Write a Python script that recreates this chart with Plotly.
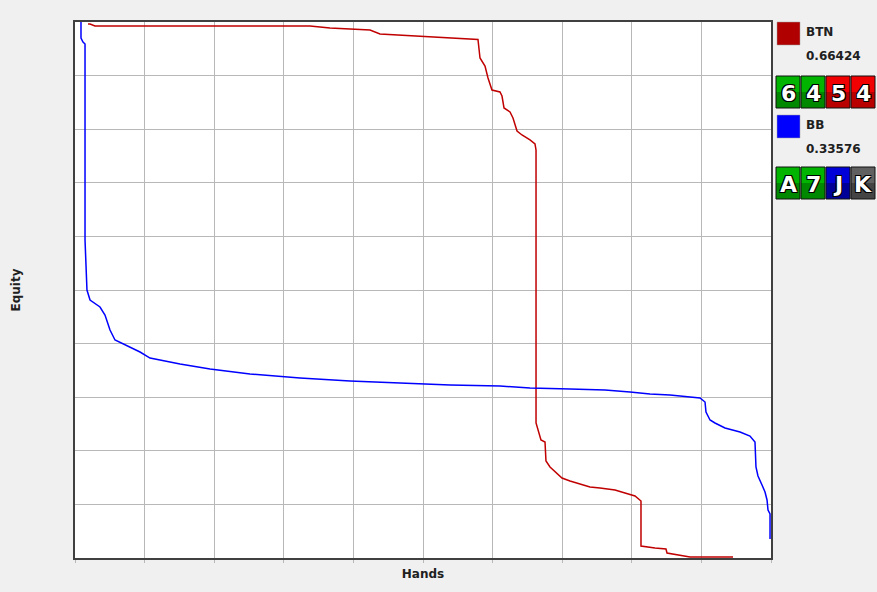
import plotly.graph_objects as go

# ---- data (fraction of hands, equity) ----
btn_x = [0.0187, 0.0216, 0.0287, 0.3376, 0.3664, 0.4239, 0.4382, 0.4957, 0.5144, 0.5603,
         0.5790, 0.5819, 0.5891, 0.5934, 0.5991, 0.6106, 0.6135, 0.6164, 0.6250, 0.6293,
         0.6336, 0.6351, 0.6422, 0.6537, 0.6609, 0.6624, 0.6624, 0.6652, 0.6695, 0.6753,
         0.6767, 0.6825, 0.6911, 0.6997, 0.7112, 0.7256, 0.7399, 0.7543, 0.7759, 0.7902,
         0.8046, 0.8132, 0.8132, 0.8333, 0.8491, 0.8506, 0.8693, 0.8836, 0.9454]
btn_y = [0.9963, 0.9963, 0.9925, 0.9925, 0.9888, 0.9851, 0.9776, 0.9739, 0.9720, 0.9692,
         0.9674, 0.9328, 0.9179, 0.8955, 0.8731, 0.8694, 0.8619, 0.8396, 0.8321, 0.8209,
         0.8022, 0.7966, 0.7892, 0.7799, 0.7724, 0.7612, 0.2519, 0.2388, 0.2201, 0.2164,
         0.1810, 0.1698, 0.1586, 0.1493, 0.1437, 0.1381, 0.1325, 0.1306, 0.1269, 0.1213,
         0.1157, 0.1063, 0.0224, 0.0187, 0.0168, 0.0093, 0.0056, 0.0019, 0.0019]

bb_x = [0.0086, 0.0086, 0.0115, 0.0144, 0.0144, 0.0158, 0.0172, 0.0216, 0.0359, 0.0431,
        0.0503, 0.0575, 0.0718, 0.0934, 0.1078, 0.1509, 0.1940, 0.2514, 0.3233, 0.3951,
        0.4670, 0.5388, 0.6106, 0.6537, 0.7112, 0.7615, 0.7974, 0.8261, 0.8549, 0.8836,
        0.8980, 0.9052, 0.9066, 0.9124, 0.9195, 0.9339, 0.9555, 0.9698, 0.9770, 0.9784,
        0.9813, 0.9871, 0.9914, 0.9943, 0.9957, 0.9986, 0.9986]
bb_y = [1.0, 0.9701, 0.9627, 0.9590, 0.5933, 0.5187, 0.5000, 0.4813, 0.4683, 0.4534,
        0.4254, 0.4067, 0.3974, 0.3843, 0.3731, 0.3619, 0.3526, 0.3433, 0.3358, 0.3302,
        0.3265, 0.3228, 0.3209, 0.3172, 0.3153, 0.3134, 0.3097, 0.3060, 0.3041, 0.3004,
        0.2985, 0.2910, 0.2724, 0.2575, 0.2519, 0.2425, 0.2351, 0.2276, 0.2164, 0.1698,
        0.1530, 0.1362, 0.1231, 0.1082, 0.0896, 0.0821, 0.0354]

players = ["BTN", "BB"]
equities = ["0.66424", "0.33576"]
player_colors = ["#b00000", "#0000ff"]
hands = [["6", "4", "5", "4"], ["A", "7", "J", "K"]]
suits = [["g", "g", "r", "r"], ["g", "g", "b", "k"]]

suit_colors = {"g": ("#00b400", "#008800"), "r": ("#f00000", "#b80000"),
               "b": ("#0000d8", "#000098"), "k": ("#606060", "#444444")}

W, H = 877, 592
L, R, T, B = 75, 771, 22, 558


def px(xp):
    return (xp - L) / (R - L)


def py(yp):
    return (B - yp) / (B - T)


fig = go.Figure()
fig.add_trace(go.Scatter(x=btn_x, y=btn_y, mode="lines", line=dict(color="#c00000", width=1.5),
                         showlegend=False, hoverinfo="skip"))
fig.add_trace(go.Scatter(x=bb_x, y=bb_y, mode="lines", line=dict(color="#0000ff", width=1.5),
                         showlegend=False, hoverinfo="skip"))

shapes = []
annotations = []
row_tops = [22, 115]
card_tops = [76, 167]
for i in range(2):
    t = row_tops[i]
    shapes.append(dict(type="rect", xref="paper", yref="paper",
                       x0=px(777), x1=px(800), y0=py(t), y1=py(t + 23),
                       fillcolor=player_colors[i], line=dict(color="#a0a0a0", width=0.5)))
    annotations.append(dict(xref="paper", yref="paper", x=px(804), y=py(t + 10), text="<b>%s</b>" % players[i],
                            showarrow=False, xanchor="left", yanchor="middle",
                            font=dict(family="DejaVu Sans", size=12, color="#202020")))
    annotations.append(dict(xref="paper", yref="paper", x=px(804), y=py(t + 34), text="<b>%s</b>" % equities[i],
                            showarrow=False, xanchor="left", yanchor="middle",
                            font=dict(family="DejaVu Sans", size=12, color="#202020")))
    ct = card_tops[i]
    for j in range(4):
        x0 = 776 + 25 * j
        x1 = x0 + 24
        top_c, bot_c = suit_colors[suits[i][j]]
        shapes.append(dict(type="rect", xref="paper", yref="paper",
                           x0=px(x0), x1=px(x1), y0=py(ct + 16), y1=py(ct),
                           fillcolor=top_c, line=dict(width=0)))
        shapes.append(dict(type="rect", xref="paper", yref="paper",
                           x0=px(x0), x1=px(x1), y0=py(ct + 32), y1=py(ct + 16),
                           fillcolor=bot_c, line=dict(width=0)))
        shapes.append(dict(type="rect", xref="paper", yref="paper",
                           x0=px(x0), x1=px(x1), y0=py(ct + 32), y1=py(ct),
                           fillcolor="rgba(0,0,0,0)", line=dict(color="#101010", width=1)))
        annotations.append(dict(xref="paper", yref="paper", x=px(x0 + 12), y=py(ct + 17),
                                text="<b>%s</b>" % hands[i][j], showarrow=False,
                                xanchor="center", yanchor="middle",
                                font=dict(family="DejaVu Sans", size=22, color="white",
                                          shadow="1px 1px 0 #000, -1px -1px 0 #000, 1px -1px 0 #000, -1px 1px 0 #000")))

fig.update_layout(
    width=W, height=H,
    margin=dict(l=L, r=W - R, t=T, b=H - B),
    paper_bgcolor="#f0f0f0", plot_bgcolor="white",
    shapes=shapes, annotations=annotations,
    font=dict(family="DejaVu Sans", size=12, color="#202020"),
)
fig.update_xaxes(range=[0, 1], dtick=0.1, showticklabels=False, showgrid=True, gridcolor="#b8b8b8",
                 gridwidth=1, zeroline=False, showline=True, linecolor="#404040", linewidth=2, mirror=True,
                 ticks="outside", ticklen=3, tickcolor="#b8b8b8",
                 title=dict(text="<b>Hands</b>", font=dict(size=12, family="DejaVu Sans", color="#202020"), standoff=8))
fig.update_yaxes(range=[0, 1], dtick=0.1, showticklabels=False, showgrid=True, gridcolor="#b8b8b8",
                 gridwidth=1, zeroline=False, showline=True, linecolor="#404040", linewidth=2, mirror=True,
                 title=dict(text="<b>Equity</b>", font=dict(size=12, family="DejaVu Sans", color="#202020"), standoff=50))

fig.write_html("out.html", config={"displayModeBar": False},
               post_script="document.body.style.margin='0';document.body.style.background='#f0f0f0';")
